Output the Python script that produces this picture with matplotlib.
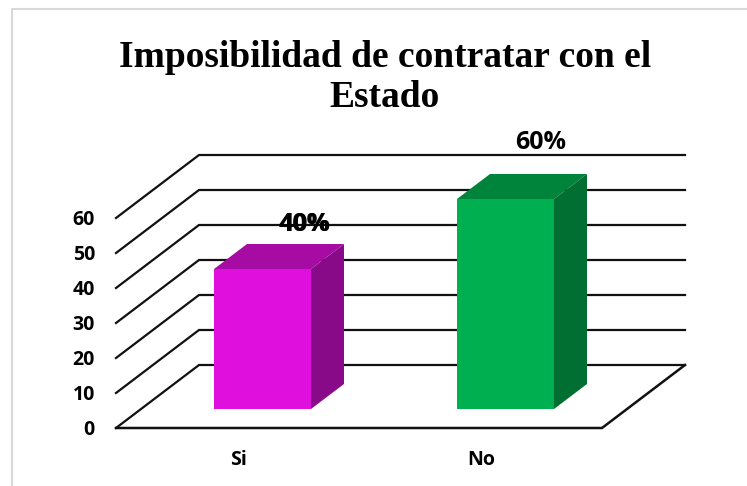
import matplotlib
matplotlib.use('Agg')
import matplotlib.pyplot as plt
from matplotlib.patches import Polygon

title = 'Imposibilidad de contratar con el\nEstado'
categories = ['Si', 'No']
values = [40, 60]
labels = ['40%', '60%']
ticks = [0, 10, 20, 30, 40, 50, 60]

W, H = 747, 486
PX = 3.5          # pixels per unit
Y0 = 428          # floor front edge
XL, XR = 116, 602
DX, DY = 83, 63   # depth of the floor
BAR_L = [214, 457]
BAR_W = 97
BAR_Y = 409       # bar bottom
BDX, BDY = 33, 25 # depth of a bar
CAT_X = [238, 481]

COL = {'Si': ('#df0fdd', '#a60ca4', '#890a88'),
       'No': ('#00b050', '#00843c', '#006f31')}

fig = plt.figure(figsize=(W / 100, H / 100), dpi=100)
ax = fig.add_axes([0, 0, 1, 1])
ax.set_xlim(0, W)
ax.set_ylim(H, 0)
ax.axis('off')

# chart frame
ax.plot([12, 12, W], [H, 9.5, 9.5], color='#d9d9d9', lw=1.5, zorder=1)

# gridlines: side wall + back wall
for t in ticks:
    y = Y0 - t * PX
    ax.plot([XL, XL + DX, XR + DX], [y, y - DY, y - DY], color='#111111', lw=1.6,
            solid_joinstyle='miter', zorder=2)
    ax.text(95, y + 2, str(t), ha='right', va='center', fontsize=14, fontweight='bold',
            family='Open Sans', color='black')

# floor
ax.plot([XL, XR, XR + DX], [Y0, Y0, Y0 - DY], color='#111111', lw=1.8,
        solid_joinstyle='miter', zorder=2)

for i, c in enumerate(categories):
    x0 = BAR_L[i]
    x1 = x0 + BAR_W
    top = BAR_Y - values[i] * PX
    front, upper, side = COL[c]
    ax.add_patch(Polygon([(x0, BAR_Y), (x1, BAR_Y), (x1, top), (x0, top)], fc=front, ec='none', zorder=5))
    ax.add_patch(Polygon([(x0, top), (x1, top), (x1 + BDX, top - BDY), (x0 + BDX, top - BDY)],
                         fc=upper, ec='none', zorder=5))
    ax.add_patch(Polygon([(x1, BAR_Y), (x1 + BDX, BAR_Y - BDY), (x1 + BDX, top - BDY), (x1, top)],
                         fc=side, ec='none', zorder=5))
    ax.text(CAT_X[i], 460, c, ha='center', va='center', fontsize=14,
            fontweight='bold', family='Open Sans', color='black', zorder=6)

# the 40% label is struck twice in the original, so it looks heavier
for dx in [-0.6, 0.6]:
    ax.text(305 + dx, 224, labels[0], ha='center', va='center', fontsize=18, fontweight='bold',
            family='Open Sans', color='black', zorder=6)
ax.text(541, 142, labels[1], ha='center', va='center', fontsize=18, fontweight='bold',
        family='Open Sans', color='black', zorder=6)

ax.text(385, 77.5, title, ha='center', va='center', fontsize=27, fontweight='bold',
        family='Liberation Serif', color='black', linespacing=1.17)

fig.savefig('out.png', dpi=100)
